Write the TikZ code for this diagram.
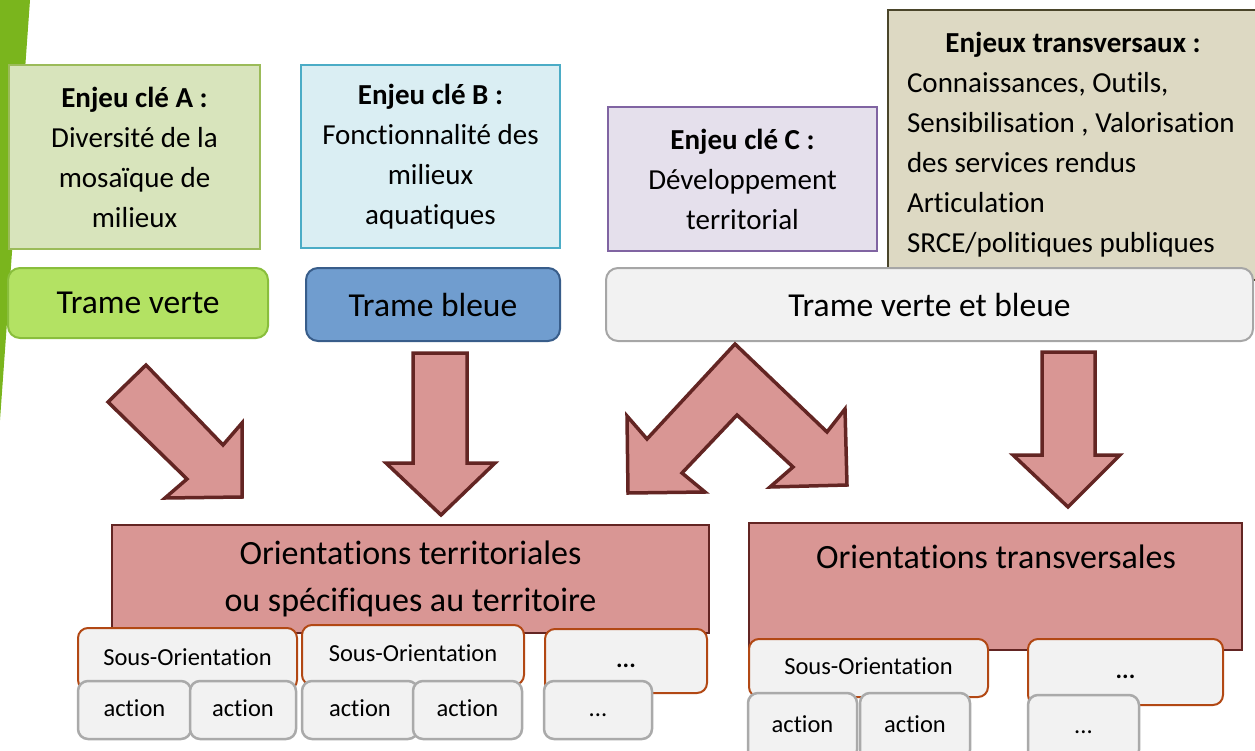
\documentclass[tikz,border=0pt]{standalone}
\usepackage{fontspec}
\setmainfont{Carlito}[Ligatures={TeX,NoCommon}]
\definecolor{greenbar}{RGB}{122,181,29}
\definecolor{enjAfill}{RGB}{216,228,188}
\definecolor{enjAline}{RGB}{155,187,89}
\definecolor{enjBfill}{RGB}{218,238,243}
\definecolor{enjBline}{RGB}{75,172,198}
\definecolor{enjCfill}{RGB}{229,224,236}
\definecolor{enjCline}{RGB}{128,100,162}
\definecolor{enjTfill}{RGB}{221,217,195}
\definecolor{enjTline}{RGB}{74,69,42}
\definecolor{tvfill}{RGB}{179,226,99}
\definecolor{tvline}{RGB}{137,190,60}
\definecolor{tbfill}{RGB}{112,157,207}
\definecolor{tbline}{RGB}{56,93,138}
\definecolor{tvbfill}{RGB}{242,242,242}
\definecolor{tvbline}{RGB}{166,166,166}
\definecolor{arrowfill}{RGB}{217,150,148}
\definecolor{arrowline}{RGB}{99,37,35}
\definecolor{sousline}{RGB}{178,72,20}
\definecolor{actline}{RGB}{170,170,170}
\definecolor{boxgray}{RGB}{242,242,242}
\begin{document}
\begin{tikzpicture}[x=1pt,y=-1pt,
  every node/.style={inner sep=0pt, outer sep=0pt},
  enj/.style={draw, line width=2pt, anchor=north west, align=center,
    font=\fontsize{29}{40}\selectfont},
  trame/.style={draw, rounded corners=12pt, line width=2pt, anchor=north west,
    font=\fontsize{33.5}{40}\selectfont},
  bigarrow/.style={fill=arrowfill, draw=arrowline, line width=3.5pt, line join=miter},
  orient/.style={draw=arrowline, fill=arrowfill, line width=2pt, anchor=north west,
    align=center, font=\fontsize{34}{47}\selectfont},
  subbox/.style={fill=boxgray, rounded corners=10pt, anchor=north west,
    font=\fontsize{24.5}{28}\selectfont, text height=17pt, text depth=5pt},
  sous/.style={subbox, draw=sousline, line width=2pt},
  act/.style={subbox, draw=actline, line width=2.5pt}
]
\useasboundingbox (0,0) rectangle (1255,750);

% green stripe
\fill[greenbar] (0,0) -- (30,0) -- (0,420) -- cycle;

% top enjeux
\node[enj, draw=enjAline, fill=enjAfill, minimum width=251pt, minimum height=184pt]
  (enjA) at (9,65) {\textbf{Enjeu clé A :}\\Diversité de la\\mosaïque de\\milieux};
\node[enj, draw=enjBline, fill=enjBfill, minimum width=259pt, minimum height=183pt]
  (enjB) at (301,65) {\textbf{Enjeu clé B :}\\Fonctionnalité des\\milieux\\aquatiques};
\node[enj, draw=enjCline, fill=enjCfill, minimum width=269pt, minimum height=144pt]
  (enjC) at (608,107) {\textbf{Enjeu clé C :}\\Développement\\territorial};
\node[draw=enjTline, fill=enjTfill, line width=1.5pt, anchor=north west,
  minimum width=400pt, minimum height=270pt] (enjT) at (888,10) {};
\node[anchor=north west, align=left,
  font=\fontsize{29}{40}\selectfont] (enjTtext) at (907,32)
  {\makebox[332pt][c]{\textbf{Enjeux transversaux :}}\\Connaissances, Outils,\\Sensibilisation , Valorisation\\des services rendus\\Articulation\\SRCE/politiques publiques};

% trames
\node[trame, draw=tvline, fill=tvfill, minimum width=260pt, minimum height=70pt]
  (tv) at (8,268) {Trame verte};
\node[trame, draw=tbline, fill=tbfill, minimum width=254pt, minimum height=73pt]
  (tb) at (306,268) {Trame bleue};
\node[trame, draw=tvbline, fill=tvbfill, minimum width=647pt, minimum height=73pt]
  (tvb) at (606,268) {Trame verte et bleue};

% block arrows
\draw[bigarrow] (146,365) -- (223,445) -- (242,423) -- (242,497) -- (165,498)
  -- (187,479) -- (108,402) -- cycle;
\draw[bigarrow] (413,353) -- (467,353) -- (467,463) -- (495,463) -- (441,515)
  -- (386,463) -- (413,463) -- cycle;
\draw[bigarrow] (735,344) -- (827,432) -- (845,409) -- (847,485) -- (770,487)
  -- (793,467) -- (737,415) -- (682,473) -- (705,492) -- (628,493) -- (627,416)
  -- (647,439) -- cycle;
\draw[bigarrow] (1042,352) -- (1095,352) -- (1095,455) -- (1120,455) -- (1068,507)
  -- (1013,455) -- (1042,455) -- cycle;

% orientations
\node[orient, minimum width=597pt, minimum height=108pt] (orT) at (112,525)
  {Orientations territoriales\\ou spécifiques\ au territoire};
\node[orient, minimum width=493pt, minimum height=127pt] (orX) at (749,523) {};
\node[font=\fontsize{34}{47}\selectfont] (orXtext) at (996,557) {Orientations transversales};

% left sub boxes
\node[sous, minimum width=219pt, minimum height=62pt] (so1) at (78,628) {Sous-Orientation};
\node[sous, minimum width=222pt, minimum height=60pt] (so2) at (302,625) {Sous-Orientation};
\node[sous, minimum width=162pt, minimum height=64pt] (d1) at (545,629) {\textbf{...}};
\node[act, minimum width=113pt, minimum height=58pt, yshift=-2pt] (a1) at (78,679) {action};
\node[act, minimum width=106pt, minimum height=58pt, yshift=-2pt] (a2) at (190,679) {action};
\node[act, minimum width=116pt, minimum height=58pt, yshift=-2pt] (a3) at (302,679) {action};
\node[act, minimum width=109pt, minimum height=58pt, yshift=-2pt] (a4) at (413,679) {action};
\node[act, minimum width=108pt, minimum height=58pt, yshift=-2pt] (d2) at (544,679) {...};

% right sub boxes
\node[sous, minimum width=239pt, minimum height=58pt] (so3) at (749,639) {Sous-Orientation};
\node[sous, minimum width=195pt, minimum height=66pt] (d3) at (1028,639) {\textbf{...}};
\node[act, minimum width=109pt, minimum height=67pt] (a5) at (748,693) {action};
\node[act, minimum width=110pt, minimum height=67pt] (a6) at (860,693) {action};
\node[act, minimum width=111pt, minimum height=65pt] (d4) at (1028,695) {...};
\end{tikzpicture}
\end{document}
